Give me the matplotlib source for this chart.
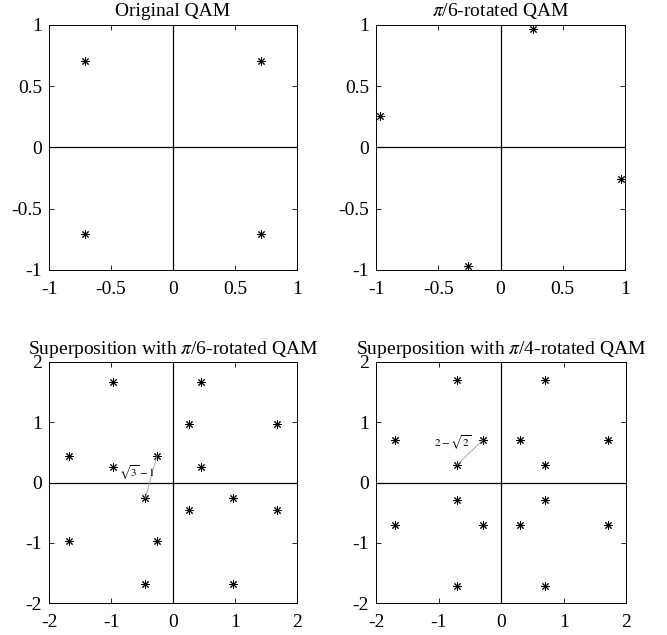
import matplotlib
matplotlib.use('Agg')
import matplotlib.pyplot as plt

plt.rcParams['font.family'] = ['Liberation Serif', 'DejaVu Serif']
plt.rcParams['mathtext.fontset'] = 'stix'
plt.rcParams['axes.unicode_minus'] = False

# original QAM
orig_x = [0.707, -0.707, -0.707, 0.707]
orig_y = [0.707, 0.707, -0.707, -0.707]

# pi/6 rotated QAM
rot6_x = [0.259, -0.966, -0.259, 0.966]
rot6_y = [0.966, 0.259, -0.966, -0.259]

# superposition with pi/6 rotated
sup6_x = [1.673, 0.448, -0.259, 0.966, 0.259, -0.966, -1.673, -0.448,
          0.259, -0.966, -1.673, -0.448, 1.673, 0.448, -0.259, 0.966]
sup6_y = [0.966, 1.673, 0.448, -0.259, 0.966, 1.673, 0.448, -0.259,
          -0.448, 0.259, -0.966, -1.673, -0.448, 0.259, -0.966, -1.673]

# superposition with pi/4 rotated
sup4_x = [-0.707, 0.707, -1.707, -0.293, 0.293, 1.707, -0.707, 0.707,
          -0.707, 0.707, -1.707, -0.293, 0.293, 1.707, -0.707, 0.707]
sup4_y = [1.707, 1.707, 0.707, 0.707, 0.707, 0.707, 0.293, 0.293,
          -0.293, -0.293, -0.707, -0.707, -0.707, -0.707, -1.707, -1.707]

# distance markers
seg6_x = [-0.259, -0.448]
seg6_y = [0.448, -0.259]
seg4_x = [-0.293, -0.707]
seg4_y = [0.707, 0.293]

fig = plt.figure(figsize=(6.67, 6.35), dpi=100)

boxes = [
    [0.0735, 0.575, 0.372, 0.386],
    [0.564, 0.575, 0.373, 0.386],
    [0.0735, 0.050, 0.372, 0.380],
    [0.564, 0.050, 0.375, 0.380],
]
titles = ['Original QAM', r'$\pi$/6-rotated QAM',
          r'Superposition with $\pi$/6-rotated QAM',
          r'Superposition with $\pi$/4-rotated QAM']
xs = [orig_x, rot6_x, sup6_x, sup4_x]
ys = [orig_y, rot6_y, sup6_y, sup4_y]

asterisk = (8, 2, 0)

for i in range(4):
    ax = fig.add_axes(boxes[i])
    lim = 1 if i < 2 else 2
    ax.axhline(0, color='black', lw=0.9)
    ax.axvline(0, color='black', lw=0.9)
    ax.plot(xs[i], ys[i], linestyle='none', marker=asterisk, ms=6,
            mew=0.7, color='black')
    ax.set_xlim(-lim, lim)
    ax.set_ylim(-lim, lim)
    if i < 2:
        ticks = [-1, -0.5, 0, 0.5, 1]
        labels = ['-1', '-0.5', '0', '0.5', '1']
    else:
        ticks = [-2, -1, 0, 1, 2]
        labels = ['-2', '-1', '0', '1', '2']
    ax.set_xticks(ticks)
    ax.set_xticklabels(labels)
    ax.set_yticks(ticks)
    ax.set_yticklabels(labels)
    ax.tick_params(direction='in', top=True, right=True, length=3.5,
                   width=0.6, labelsize=14)
    ax.tick_params(axis='x', pad=8)
    ax.tick_params(axis='y', pad=5)
    for s in ax.spines.values():
        s.set_linewidth(0.7)
    ax.set_title(titles[i], fontsize=14, pad=6)

    if i == 2:
        ax.plot(seg6_x, seg6_y, color='#a0a0a0', lw=0.6)
        ax.text(-0.87, 0.17, r'$\sqrt{3}-1$', fontsize=8, va='center', ha='left')
    if i == 3:
        ax.plot(seg4_x, seg4_y, color='#a0a0a0', lw=0.6)
        ax.text(-1.07, 0.66, r'$2-\sqrt{2}$', fontsize=8, va='center', ha='left')

fig.savefig('out.png', dpi=100)
